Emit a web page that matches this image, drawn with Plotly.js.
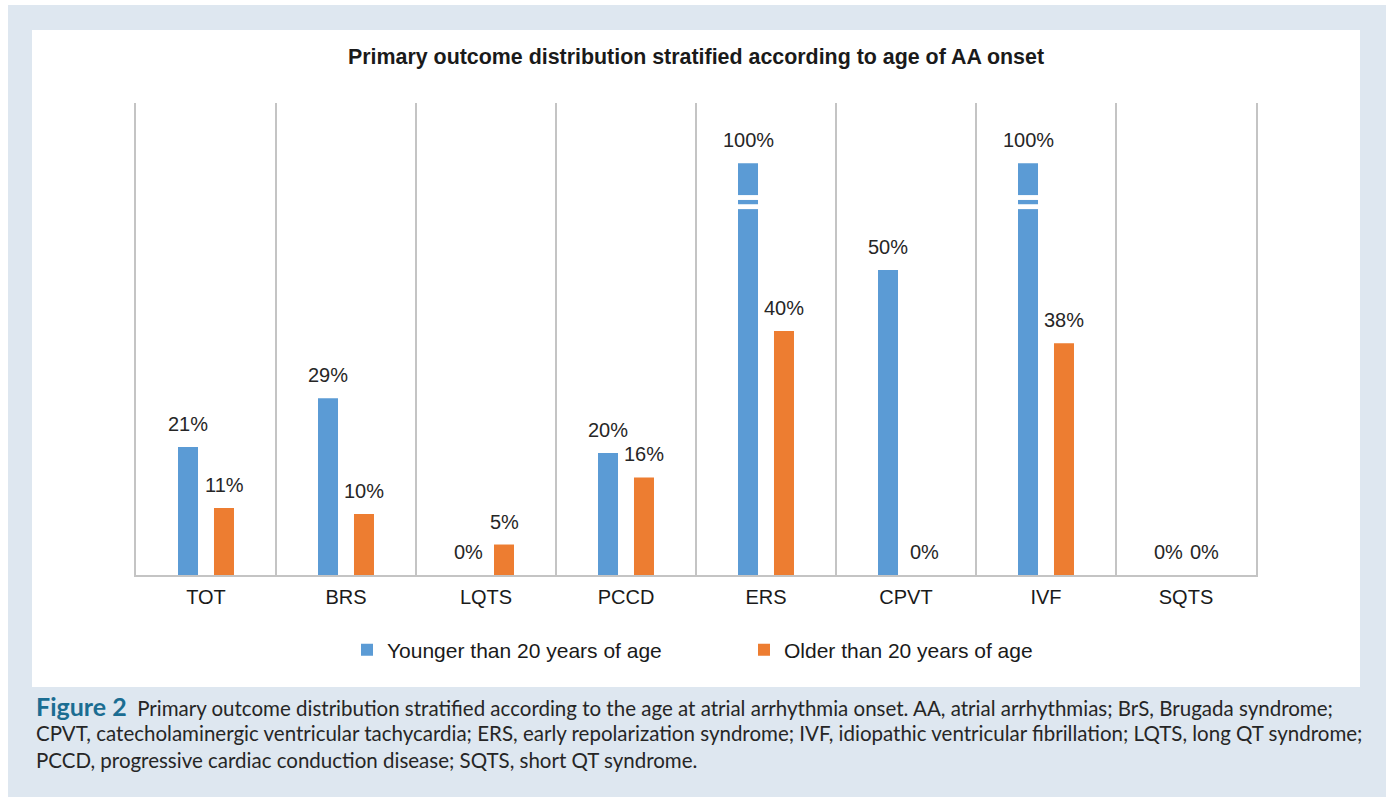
<!DOCTYPE html>
<html>
<head>
<meta charset="utf-8">
<script src="https://cdn.plot.ly/plotly-3.0.1.min.js"></script>
<style>
html,body{margin:0;padding:0;background:#ffffff;}
#chart{width:1386px;height:797px;}
</style>
</head>
<body>
<div id="chart"></div>
<script>
// ---- data ----
const categories = ['TOT', 'BRS', 'LQTS', 'PCCD', 'ERS', 'CPVT', 'IVF', 'SQTS'];
const younger = [21, 29, 0, 20, 100, 50, 100, 0];
const older = [11, 10, 5, 16, 40, 0, 38, 0];
const seriesNames = ['Younger than 20 years of age', 'Older than 20 years of age'];
const chartTitle = 'Primary outcome distribution stratified according to age of AA onset';
const captionLines = [
  '<b><span style="color:#1b6d92;font-size:25px">Figure 2</span></b>  Primary outcome distribution stratified according to the age at atrial arrhythmia onset. AA, atrial arrhythmias; BrS, Brugada syndrome;',
  'CPVT, catecholaminergic ventricular tachycardia; ERS, early repolarization syndrome; IVF, idiopathic ventricular fibrillation; LQTS, long QT syndrome;',
  'PCCD, progressive cardiac conduction disease; SQTS, short QT syndrome.'
];

// ---- styling / axis-break settings ----
const colors = ['#5b9bd5', '#ed7d31'];
const breakCap = 67.5;          // broken-axis: bars above this are truncated
const breakGaps = [[60.0, 60.8], [61.5, 62.3]];
const yMax = 77.4;
const L = 136, R = 1256, T = 103, B = 575, W = 1386, H = 797;
const px2x = p => (p - L) / (R - L);
const px2y = p => (B - p) / (B - T);

const shown = arr => arr.map(v => Math.min(v, breakCap));

const traces = [younger, older].map((vals, k) => ({
  type: 'bar',
  name: seriesNames[k],
  x: categories,
  y: shown(vals),
  marker: {color: colors[k]},
  hoverinfo: 'skip'
}));

const shapes = [
  // outer bluish frame
  {type: 'rect', xref: 'paper', yref: 'paper', layer: 'below',
   x0: px2x(8), x1: px2x(1386), y0: px2y(797), y1: px2y(5),
   fillcolor: '#dee7f0', line: {width: 0}},
  // white panel
  {type: 'rect', xref: 'paper', yref: 'paper', layer: 'below',
   x0: px2x(32), x1: px2x(1360), y0: px2y(687), y1: px2y(30),
   fillcolor: '#ffffff', line: {width: 0}}
];

const annotations = [];
const offs = [-18, 18];
[younger, older].forEach((vals, k) => {
  vals.forEach((v, i) => {
    const h = Math.min(v, breakCap);
    annotations.push({
      x: i, y: h, xref: 'x', yref: 'y',
      text: v + '%', showarrow: false,
      xshift: offs[k], yshift: 23, yanchor: 'middle',
      font: {family: 'Liberation Sans, Arial, sans-serif', size: 20, color: '#262626'}
    });
    if (v > breakCap) {
      breakGaps.forEach(g => {
        shapes.push({
          type: 'rect', xref: 'x', yref: 'y', layer: 'above',
          x0: i + (offs[k] - 12) / 140, x1: i + (offs[k] + 12) / 140,
          y0: g[0], y1: g[1],
          fillcolor: '#ffffff', line: {width: 0}
        });
      });
    }
  });
});

const capY = [706, 733, 760];
captionLines.forEach((t, j) => {
  annotations.push({
    xref: 'paper', yref: 'paper', x: px2x(34), y: px2y(capY[j]),
    xanchor: 'left', yanchor: 'middle', align: 'left', showarrow: false,
    text: t,
    font: {family: 'Lato, Open Sans, sans-serif', size: 20.5, color: '#262626'}
  });
});

const layout = {
  width: W, height: H,
  margin: {l: L, r: W - R, t: T, b: H - B, pad: 0},
  paper_bgcolor: '#ffffff',
  plot_bgcolor: 'rgba(0,0,0,0)',
  font: {family: 'Liberation Sans, Arial, sans-serif', color: '#262626'},
  title: {
    text: '<b>' + chartTitle + '</b>',
    font: {family: 'Liberation Sans, Arial, sans-serif', size: 21.4, color: '#1a1a1a'},
    x: 696 / W, xanchor: 'center',
    y: 1 - 57 / H, yanchor: 'middle', yref: 'container', xref: 'container'
  },
  barmode: 'group',
  bargap: 0.486,
  bargroupgap: 0.444,
  xaxis: {
    type: 'category',
    range: [-0.5, categories.length - 0.5],
    tickson: 'boundaries',
    showgrid: true, gridcolor: '#c4c4c4', gridwidth: 2,
    showline: true, linecolor: '#c4c4c4', linewidth: 2,
    ticks: '', ticklabelstandoff: 3,
    tickfont: {family: 'Liberation Sans, Arial, sans-serif', size: 20, color: '#1a1a1a'},
    fixedrange: true
  },
  yaxis: {
    range: [0, yMax],
    showgrid: false, zeroline: false,
    showline: true, mirror: true, linecolor: '#c4c4c4', linewidth: 2,
    showticklabels: false, ticks: '',
    fixedrange: true
  },
  showlegend: true,
  legend: {
    orientation: 'h', x: px2x(347), xanchor: 'left', y: px2y(650), yanchor: 'middle',
    font: {family: 'Liberation Sans, Arial, sans-serif', size: 21, color: '#1a1a1a'},
    entrywidth: 352, entrywidthmode: 'pixels', itemwidth: 30,
    bgcolor: 'rgba(0,0,0,0)'
  },
  shapes: shapes,
  annotations: annotations
};

Plotly.newPlot('chart', traces, layout, {displayModeBar: false, staticPlot: true});
</script>
</body>
</html>
